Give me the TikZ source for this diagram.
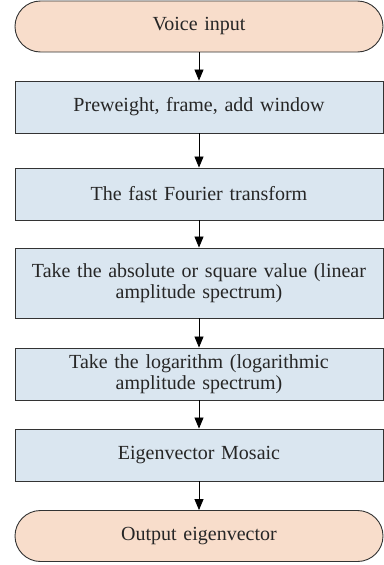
\documentclass[tikz,border=0pt]{standalone}
\usepackage{fontspec}
\setmainfont{Liberation Serif}
\usetikzlibrary{arrows.meta}
\definecolor{termfill}{HTML}{F8DDCB}
\definecolor{stepfill}{HTML}{DAE6F0}
\definecolor{edgegray}{HTML}{333333}
\tikzset{
  base/.style={draw=edgegray, line width=0.9pt, minimum width=368pt, inner sep=0pt,
    align=center, text width=362pt, font=\fontsize{20}{21.5}\selectfont, text=black!85},
  terminal/.style={base, fill=termfill, rounded corners=25.5pt, minimum height=51pt},
  stepbox/.style={base, fill=stepfill, minimum height=52pt},
  flow/.style={draw=black, line width=0.8pt, -{Triangle[width=9pt,length=11pt]}}
}
\begin{document}
\begin{tikzpicture}[x=1pt,y=-1pt]
  \useasboundingbox (0,0) rectangle (383,565);
  \node[terminal] (in)   at (199,26.5) {Voice input};
  \node[stepbox]  (pre)  at (199,107)  {Preweight, frame, add window};
  \node[stepbox]  (fft)  at (199,194)  {The fast Fourier transform};
  \node[stepbox, minimum height=70pt] (abs) at (199,283) {Take the absolute or square value (linear\\ amplitude spectrum)};
  \node[stepbox]  (log)  at (199,374)  {Take the logarithm (logarithmic\\ amplitude spectrum)};
  \node[stepbox]  (mos)  at (199,455)  {Eigenvector Mosaic};
  \node[terminal] (out)  at (199,536)  {Output eigenvector};
  \draw[flow] (in) -- (pre);
  \draw[flow] (pre) -- (fft);
  \draw[flow] (fft) -- (abs);
  \draw[flow] (abs) -- (log);
  \draw[flow] (log) -- (mos);
  \draw[flow] (mos) -- (out);
\end{tikzpicture}
\end{document}
